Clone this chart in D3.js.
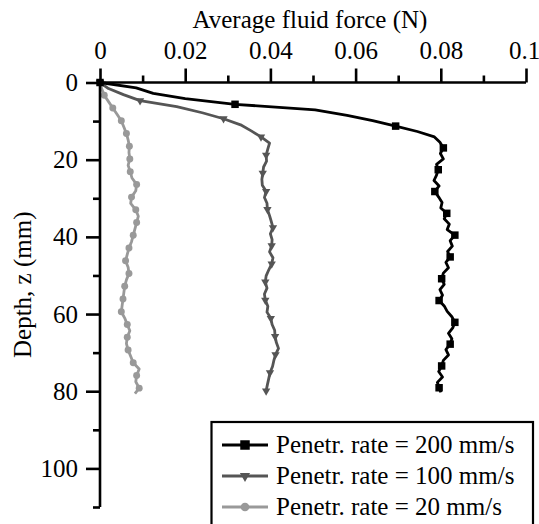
<!DOCTYPE html>
<html><head><meta charset="utf-8">
<script src="https://cdn.jsdelivr.net/npm/d3@7"></script>
<style>body{margin:0;background:#fff}svg{display:block}</style>
</head><body>
<svg id="c" width="539" height="524"></svg>
<script>
// ---- data ----
const xTicks = [0, 0.02, 0.04, 0.06, 0.08, 0.1];
const xTickLabels = ["0", "0.02", "0.04", "0.06", "0.08", "0.1"];
const xMinor = [0.01, 0.03, 0.05, 0.07, 0.09];
const yTicks = [0, 20, 40, 60, 80, 100];
const yMinor = [10, 30, 50, 70, 90, 110];
const seriesNames = ["Penetr. rate = 200 mm/s", "Penetr. rate = 100 mm/s", "Penetr. rate = 20 mm/s"];

const depth200 = [0,1.4,2.8,4.2,5.65,7.1,8.5,9.9,11.3,12.7,14.1,15.5,16.95,18.4,19.8,21.2,22.6,24.0,25.4,26.8,28.25,29.7,31.1,32.5,33.9,35.3,36.7,38.1,39.55,41.0,42.4,43.8,45.2,46.6,48.0,49.4,50.85,52.3,53.7,55.1,56.5,57.9,59.3,60.7,62.15,63.6,65.0,66.4,67.8,69.2,70.6,72.0,73.45,74.9,76.3,77.7,79.1,80.3];
const force200 = [0,0.0085,0.0125,0.020,0.0317,0.0505,0.058,0.064,0.0694,0.0745,0.0785,0.0798,0.0806,0.0799,0.0806,0.0790,0.0794,0.0790,0.0784,0.0796,0.0786,0.0795,0.0803,0.0800,0.0814,0.0808,0.0820,0.0815,0.0833,0.0822,0.0827,0.0816,0.0822,0.0812,0.0818,0.0806,0.0802,0.0808,0.0798,0.0804,0.0796,0.0808,0.0815,0.0826,0.0833,0.0828,0.0818,0.0826,0.0822,0.0812,0.0818,0.0806,0.0802,0.0795,0.0804,0.0792,0.0796,0.0800];
const mark200 = 4;

const depth100 = [0,1.57,3.14,4.7,6.27,7.84,9.4,10.97,12.54,14.1,15.7,17.2,18.8,20.4,21.9,23.5,25.1,26.6,28.2,29.8,31.3,32.9,34.5,36.0,37.6,39.2,40.7,42.3,43.9,45.4,47.0,48.6,50.1,51.7,53.3,54.8,56.4,58.0,59.5,61.1,62.7,64.2,65.8,67.4,68.9,70.5,72.1,73.6,75.2,76.8,78.3,79.9];
const force100 = [0,0.0020,0.0055,0.0094,0.0180,0.0240,0.0290,0.0330,0.0355,0.0378,0.0398,0.0394,0.0390,0.0391,0.0384,0.0382,0.0380,0.0381,0.0390,0.0386,0.0392,0.0393,0.0398,0.0402,0.0406,0.0400,0.0404,0.0403,0.0398,0.0406,0.0403,0.0396,0.0390,0.0388,0.0392,0.0386,0.0388,0.0394,0.0392,0.0401,0.0404,0.0410,0.0411,0.0414,0.0419,0.0412,0.0408,0.0405,0.0399,0.0396,0.0393,0.0390];
const mark100 = 3;

const depth20 = [0,1.65,3.3,4.95,6.6,8.25,9.9,11.55,13.2,14.85,16.5,18.15,19.8,21.45,23.1,24.75,26.4,28.05,29.7,31.35,33.0,34.65,36.3,37.95,39.6,41.25,42.9,44.55,46.2,47.85,49.5,51.15,52.8,54.45,56.1,57.75,59.4,61.05,62.7,64.35,66.0,67.65,69.3,70.95,72.6,74.25,75.9,77.55,79.2,80.6];
const force20 = [0,0.0004,0.0010,0.0020,0.0030,0.0040,0.0050,0.0056,0.0062,0.0066,0.0069,0.0068,0.0070,0.0066,0.0071,0.0075,0.0086,0.0084,0.0074,0.0072,0.0084,0.0090,0.0086,0.0082,0.0078,0.0074,0.0068,0.0064,0.0060,0.0066,0.0068,0.0062,0.0058,0.0056,0.0054,0.0052,0.0050,0.0058,0.0064,0.0070,0.0064,0.0062,0.0066,0.0072,0.0078,0.0092,0.0086,0.0084,0.0092,0.0082];
const mark20 = 2;

// ---- chart ----
const FONT = "'Liberation Serif', 'Times New Roman', serif";
const FS = 25;
const svg = d3.select("#c");
const x = d3.scaleLinear().domain([0, 0.1]).range([100, 526]);
const y = d3.scaleLinear().domain([0, 110]).range([82.5, 507]);

const series = [
  {name: seriesNames[0], d: depth200, f: force200, every: mark200, color: "#000000", sym: d3.symbolSquare, size: 56, lsize: 90},
  {name: seriesNames[1], d: depth100, f: force100, every: mark100, color: "#555555", sym: d3.symbolTriangle, size: 30, lsize: 45, rot: 180},
  {name: seriesNames[2], d: depth20, f: force20, every: mark20, color: "#999999", sym: d3.symbolCircle, size: 38, lsize: 60}
];

const line = d3.line().x(p => x(p[1])).y(p => y(p[0]));
[...series].reverse().forEach(s => {
  const pts = s.d.map((v, i) => [v, s.f[i]]);
  svg.append("path").attr("d", line(pts)).attr("fill", "none")
    .attr("stroke", s.color).attr("stroke-width", 2.8).attr("stroke-linejoin", "round");
  svg.selectAll(null).data(pts.filter((p, i) => i % s.every === 0)).enter()
    .append("path")
    .attr("d", d3.symbol().type(s.sym).size(s.size))
    .attr("transform", p => `translate(${x(p[1])},${y(p[0])})` + (s.rot ? ` rotate(${s.rot})` : ""))
    .attr("fill", s.color);
});

// top x axis
const gx = svg.append("g").attr("transform", `translate(0,${y(0)})`)
  .call(d3.axisTop(x).tickValues(xTicks).tickFormat((d, i) => xTickLabels[i]).tickSize(14).tickPadding(10));
const gxm = svg.append("g").attr("transform", `translate(0,${y(0)})`)
  .call(d3.axisTop(x).tickValues(xMinor).tickSize(7).tickFormat(""));
gxm.select(".domain").remove();

// left y axis
const gy = svg.append("g").attr("transform", `translate(${x(0)},0)`)
  .call(d3.axisLeft(y).tickValues(yTicks).tickSize(14).tickPadding(8));
const gym = svg.append("g").attr("transform", `translate(${x(0)},0)`)
  .call(d3.axisLeft(y).tickValues(yMinor).tickSize(7).tickFormat(""));
gym.select(".domain").remove();

[gx, gxm, gy, gym].forEach(g => {
  g.attr("font-family", FONT).attr("font-size", FS);
  g.selectAll("path.domain").attr("stroke", "#000").attr("stroke-width", 2.6);
  g.selectAll(".tick line").attr("stroke", "#000").attr("stroke-width", 2.6);
  g.selectAll(".tick text").style("font-family", FONT).style("font-size", FS + "px").attr("fill", "#000");
});
gx.select(".domain").attr("d", `M${x(0)},0H${x(0.1)}`);
gy.select(".domain").attr("d", `M0,${y(0)}V${y(110)}`);
gx.selectAll(".tick text").filter(d => d === 0.1).attr("dx", -2);

// titles
svg.append("text").attr("x", (x(0) + x(0.1)) / 2 - 3).attr("y", 28)
  .attr("text-anchor", "middle").style("font-family", FONT).style("font-size", FS + "px").text("Average fluid force (N)");
svg.append("text").attr("transform", `translate(31,${(y(0)+y(110))/2 - 10}) rotate(-90)`)
  .attr("text-anchor", "middle").style("font-family", FONT).style("font-size", FS + "px").text("Depth, z (mm)");

// legend
const lg = svg.append("g");
lg.append("rect").attr("x", 211.5).attr("y", 422).attr("width", 321.5).attr("height", 110)
  .attr("fill", "#fff").attr("stroke", "#000").attr("stroke-width", 2.2);
series.forEach((s, i) => {
  const cy = 445 + i * 31;
  lg.append("line").attr("x1", 222).attr("x2", 268).attr("y1", cy).attr("y2", cy)
    .attr("stroke", s.color).attr("stroke-width", 2.8);
  lg.append("path").attr("d", d3.symbol().type(s.sym).size(s.lsize))
    .attr("transform", `translate(245,${cy})` + (s.rot ? ` rotate(${s.rot})` : "")).attr("fill", s.color);
  lg.append("text").attr("x", 276).attr("y", cy + 8).style("font-family", FONT).style("font-size", FS + "px").text(s.name);
});
</script>
</body></html>
